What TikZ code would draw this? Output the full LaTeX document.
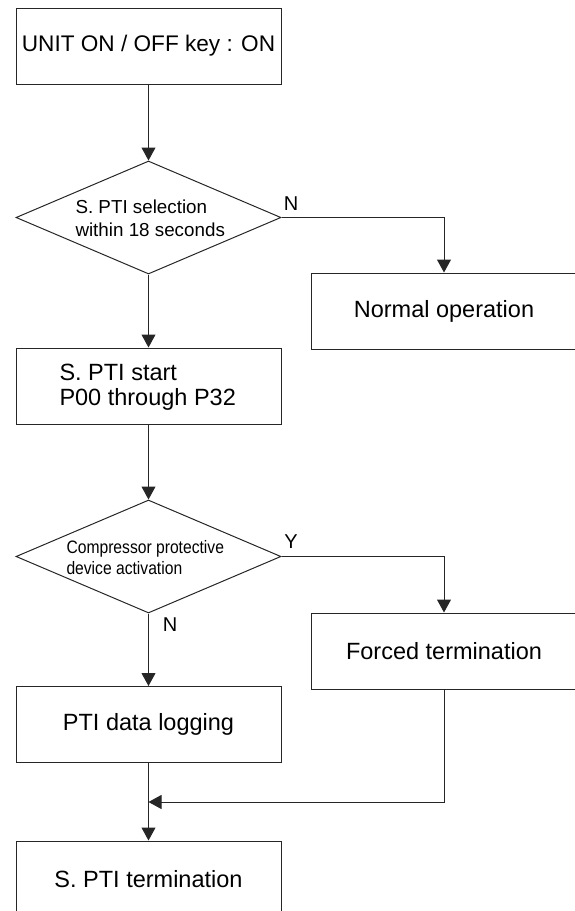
\documentclass[tikz,border=0pt]{standalone}
\usepackage{fontspec}
\setmainfont{Liberation Sans}
\newfontfamily\condfont{Liberation Sans}[FakeStretch=0.87]
\usetikzlibrary{shapes.geometric,arrows.meta}
\begin{document}
\begin{tikzpicture}[x=1pt,y=-1pt,
  line width=1pt,
  box/.style={draw=black!85, rectangle, minimum width=265pt, minimum height=76pt, inner sep=0pt, font=\fontsize{23.5}{25}\selectfont, align=center},
  wbox/.style={box, minimum width=266pt},
  dia/.style={draw=black!85, diamond, minimum width=265pt, minimum height=113pt, inner sep=0pt, aspect=2.345},
  arr/.style={draw=black!85, -{Triangle[length=13pt,width=14pt]}},
  conn/.style={draw=black!85},
  lab/.style={font=\fontsize{20}{22}\selectfont, inner sep=0pt},
  dtext/.style={anchor=west, align=left, inner sep=0pt}
]
\useasboundingbox (0,0) rectangle (575,911);
% boxes
\node[box, font=\fontsize{22.6}{25}\selectfont] (b1) at (148.5,46) {UNIT ON / OFF key : ON};
\node[dia] (d1) at (148.5,217.5) {};
\node[dtext, font=\fontsize{18.8}{23}\selectfont] (d1t) at (75,218.5) {S. PTI selection\\within 18 seconds};
\node[wbox] (bN) at (444,311) {Normal operation};
\node[box] (b3) at (148.5,386) {};
\node[dtext, font=\fontsize{23.5}{25}\selectfont] (b3t) at (59,387.5) {S. PTI start\\P00 through P32};
\node[dia] (d2) at (148.5,556.5) {};
\node[dtext, font=\condfont\fontsize{18}{21}\selectfont] (d2t) at (66,557.5) {Compressor protective\\device activation};
\node[wbox] (bF) at (444,651) {Forced termination};
\node[box] (bL) at (148.5,724.5) {PTI data logging};
\node[box] (bT) at (148.5,879) {S. PTI termination};
\coordinate (m) at (148.5,802);
% labels
\node[lab] (lN1) at (291,204) {N};
\node[lab] (lY) at (291,542) {Y};
\node[lab] (lN2) at (170,625) {N};
% connectors
\draw[arr] (b1.south) -- (d1.north);
\draw[arr] (d1.east) -| (bN.north);
\draw[arr] (d1.south) -- (b3.north);
\draw[arr] (b3.south) -- (d2.north);
\draw[arr] (d2.east) -| (bF.north);
\draw[arr] (d2.south) -- (bL.north);
\draw[arr] (bL.south) -- (bT.north);
\draw[arr] (bF.south) |- (m);
\end{tikzpicture}
\end{document}
